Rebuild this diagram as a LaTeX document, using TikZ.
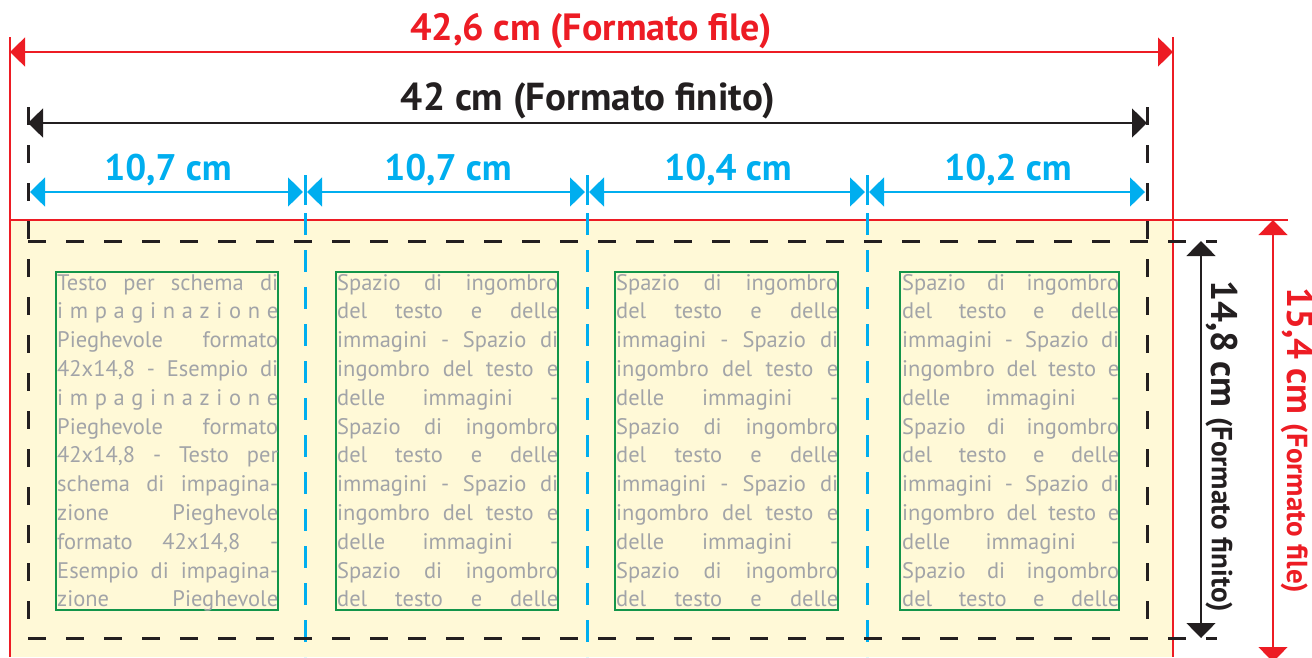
\documentclass[tikz,border=0pt]{standalone}
\usepackage{fontspec}
\setmainfont{PT Sans}
\usetikzlibrary{arrows.meta}

\definecolor{filered}{HTML}{ED1C24}
\definecolor{cutblack}{HTML}{231F20}
\definecolor{foldblue}{HTML}{00AEEF}
\definecolor{areagreen}{HTML}{13954A}
\definecolor{dummygray}{HTML}{A2A4A8}
\definecolor{paper}{HTML}{FFF9D7}

\begin{document}
\begin{tikzpicture}[x=1pt,y=-1pt,
    >={Triangle[length=15pt,width=29pt]},
    redline/.style={filered,line width=1.3pt},
    cutline/.style={cutblack,line width=3pt,dash pattern=on 18pt off 20pt},
    foldline/.style={foldblue,line width=3pt,dash pattern=on 22pt off 15pt},
    dimlabel/.style={font=\fontsize{38}{42}\selectfont\bfseries,inner sep=0pt},
    bodyline/.style={text=dummygray,font=\fontsize{22.5}{24}\selectfont,inner sep=0pt,anchor=base west}]
    \useasboundingbox (0,0) rectangle (1312,657);

    % the sheet with bleed
    \fill[paper] (10,220) rectangle (1173,657);
    \draw[redline] (10,37) -- (10,657);
    \draw[redline] (1173,37) -- (1173,657);
    \draw[redline] (10,220) -- (1288,220);

    % fold lines
    \foreach \x in {305,587,867} {
        \draw[foldblue,line width=3pt] (\x,175) -- (\x,205);
        \draw[foldline] (\x,213) -- (\x,657);
        }

    % trim lines
    \draw[cutline] (28,107) -- (28,638);
    \draw[cutline] (1147,107) -- (1147,638);
    \draw[cutline] (28,241) -- (1217,241);
    \draw[cutline] (28,638) -- (1217,638);

    % end points of the measures
    \coordinate (fileL) at (10,52);
    \coordinate (fileR) at (1173,52);
    \coordinate (finL) at (28,123);
    \coordinate (finR) at (1147,123);
    \coordinate (fileT) at (1273,220);
    \coordinate (fileB) at (1273,662);
    \coordinate (finT) at (1201,241);
    \coordinate (finB) at (1201,638);
    \foreach \x [count=\i] in {28,305,587,867,1147}
        \coordinate (f\i) at (\x,192);

    % horizontal measures
    \draw[filered,line width=1.3pt,<->] (fileL) -- (fileR);
    \draw[cutblack,line width=1.5pt,<->] (finL) -- (finR);
    \foreach \a/\b in {1/2,2/3,3/4,4/5}
        \draw[foldblue,line width=1.5pt,<->,shorten <=2pt,shorten >=2pt] (f\a) -- (f\b);

    % vertical measures
    \draw[filered,line width=1.3pt,<->] (fileT) -- (fileB);
    \draw[cutblack,line width=1.5pt,<->] (finT) -- (finB);

    % labels
    \node[dimlabel,text=filered] (fileW) at (591,31) {42,6 cm (Formato file)};
    \node[dimlabel,text=cutblack,font=\fontsize{39}{42}\selectfont\bfseries] (finW) at (588,101) {42 cm (Formato finito)};
    \foreach \x/\xtext [count=\i] in {168/{10,7 cm},448/{10,7 cm},728/{10,4 cm},1008/{10,2 cm}}
        \node[dimlabel,text=foldblue,font=\fontsize{37}{42}\selectfont\bfseries] (panel\i) at (\x,170) {\xtext};
    \node[inner sep=0pt,rotate=-90,text=cutblack,font=\bfseries] (finH) at (1222,446)
        {\fontsize{37}{40}\selectfont 14,8 cm \fontsize{29}{30}\selectfont(Formato finito)};
    \node[inner sep=0pt,rotate=-90,text=filered,font=\bfseries] (fileH) at (1297,440)
        {\fontsize{37}{40}\selectfont 15,4 cm \fontsize{29}{30}\selectfont(Formato file)};

    % text areas
    \foreach \x/\w in {56/222,336/222,615/223,900/219}
        \draw[areagreen,line width=2pt] (\x,272) rectangle ++(\w,338);

    \foreach \t [count=\i] in {Testo per schema di,
        i m p a g i n a z i o n e,
        Pieghevole formato,
        {42x14,8 - Esempio di},
        i m p a g i n a z i o n e,
        Pieghevole formato,
        {42x14,8 - Testo per},
        schema di impagina-,
        zione Pieghevole,
        {formato 42x14,8 -},
        Esempio di impagina-,
        zione Pieghevole}
        \node[bodyline] (a\i) at (57,{290+(\i-1)*28.8}) {\makebox[221pt][s]{\t}};

    \foreach \x/\w [count=\b] in {337/221,616/222,902/217} {
        \foreach \t [count=\i] in {Spazio di ingombro,
            del testo e delle,
            immagini - Spazio di,
            ingombro del testo e,
            delle immagini -,
            Spazio di ingombro,
            del testo e delle,
            immagini - Spazio di,
            ingombro del testo e,
            delle immagini -,
            Spazio di ingombro,
            del testo e delle}
            \node[bodyline] (s\b-\i) at (\x,{290+(\i-1)*28.8}) {\makebox[\w pt][s]{\t}};
        }
\end{tikzpicture}
\end{document}
